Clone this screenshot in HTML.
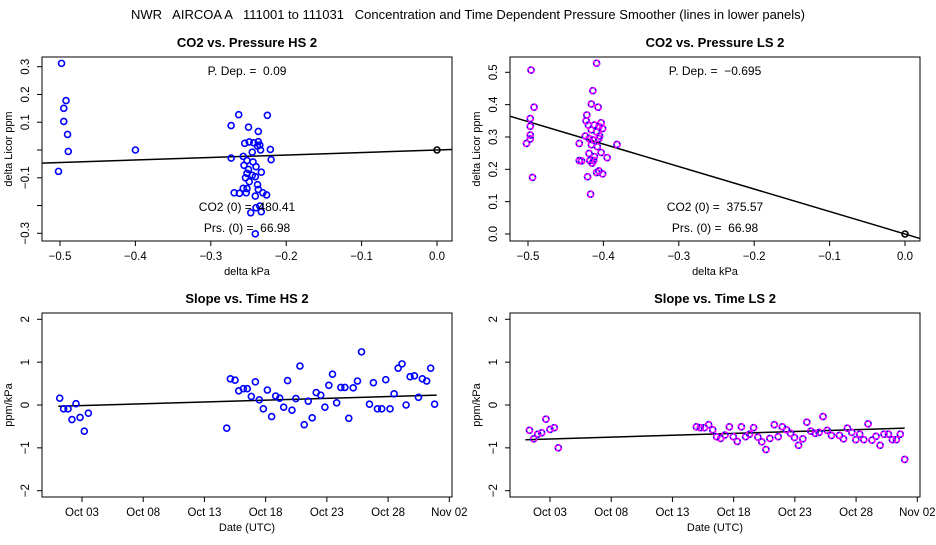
<!DOCTYPE html>
<html><head><meta charset="utf-8">
<style>
body{margin:0;background:#fff;}
svg text{font-family:"Liberation Sans",sans-serif;white-space:pre;}
</style></head>
<body>
<svg id="chart" width="936" height="540" xmlns="http://www.w3.org/2000/svg">
<rect width="936" height="540" fill="#fff"/>
<text x="468" y="19" font-size="13" text-anchor="middle" xml:space="preserve">NWR   AIRCOA A   111001 to 111031   Concentration and Time Dependent Pressure Smoother (lines in lower panels)</text>
</svg>
<script>
// ---- data ----
const hsPressX = [-0.498,-0.492,-0.495,-0.495,-0.49,-0.489,-0.502,-0.40,-0.263,-0.225,-0.273,-0.25,-0.237,-0.255,-0.249,-0.243,-0.237,-0.235,-0.238,-0.245,-0.234,-0.221,-0.273,-0.257,-0.220,-0.252,-0.244,-0.256,-0.240,-0.250,-0.233,-0.252,-0.245,-0.254,-0.241,-0.249,-0.238,-0.257,-0.252,-0.237,-0.269,-0.262,-0.253,-0.231,-0.226,-0.241,-0.235,-0.240,-0.247,-0.233,-0.241];
const hsPressY = [0.312,0.178,0.15,0.103,0.056,-0.005,-0.077,0,0.127,0.125,0.088,0.082,0.067,0.024,0.029,0.026,0.03,0.018,0.014,-0.008,0,0.002,-0.029,-0.023,-0.035,-0.038,-0.043,-0.055,-0.06,-0.07,-0.08,-0.084,-0.091,-0.1,-0.096,-0.114,-0.125,-0.138,-0.139,-0.142,-0.154,-0.156,-0.154,-0.154,-0.162,-0.166,-0.202,-0.208,-0.226,-0.222,-0.302];
const hsPDep = 0.09;
const lsPressX = [-0.496,-0.492,-0.497,-0.497,-0.497,-0.497,-0.502,-0.494,-0.409,-0.414,-0.416,-0.407,-0.422,-0.423,-0.403,-0.420,-0.412,-0.406,-0.401,-0.416,-0.409,-0.405,-0.424,-0.414,-0.419,-0.406,-0.432,-0.416,-0.408,-0.382,-0.403,-0.395,-0.419,-0.412,-0.432,-0.429,-0.418,-0.413,-0.415,-0.406,-0.401,-0.409,-0.421,-0.417];
const lsPressY = [0.507,0.392,0.357,0.333,0.306,0.294,0.28,0.175,0.528,0.443,0.402,0.392,0.368,0.35,0.344,0.337,0.337,0.332,0.326,0.322,0.316,0.303,0.303,0.291,0.295,0.295,0.28,0.276,0.27,0.277,0.252,0.236,0.249,0.239,0.227,0.226,0.227,0.227,0.219,0.195,0.186,0.19,0.177,0.123];
const lsPDep = -0.695;
const hsDays = [1.18,1.5,1.86,2.18,2.51,2.84,3.19,3.52,14.82,15.12,15.5,15.8,16.18,16.5,16.83,17.16,17.48,17.81,18.14,18.49,18.82,19.15,19.47,19.79,20.15,20.47,20.8,21.15,21.48,21.8,22.13,22.5,22.84,23.16,23.46,23.8,24.14,24.47,24.79,25.15,25.5,25.83,26.48,26.8,27.13,27.48,27.81,28.16,28.49,28.82,29.14,29.47,29.8,30.15,30.48,30.8,31.15,31.48,31.8];
const hsSlope = [0.16,-0.09,-0.09,-0.34,0.03,-0.29,-0.61,-0.19,-0.54,0.61,0.58,0.33,0.38,0.38,0.2,0.54,0.12,-0.09,0.35,-0.27,0.21,0.16,-0.05,0.57,-0.12,0.15,0.91,-0.46,0.09,-0.30,0.29,0.23,-0.05,0.46,0.72,0.05,0.41,0.41,-0.31,0.4,0.56,1.24,0.02,0.52,-0.09,-0.09,0.59,-0.09,0.26,0.86,0.96,0,0.66,0.68,0.18,0.61,0.56,0.86,0.02];
const hsFitDays = [1.07,31.97];
const hsFitVals = [-0.03,0.23];
const lsDays = [1.32,1.67,2.0,2.32,2.67,3.0,3.35,3.68,14.96,15.28,15.61,15.96,16.29,16.61,16.94,17.29,17.65,17.97,18.3,18.63,18.98,19.3,19.63,19.98,20.3,20.64,20.96,21.32,21.64,21.97,22.32,22.65,22.97,23.3,23.65,23.98,24.3,24.66,24.98,25.3,25.64,25.99,26.64,26.97,27.29,27.65,27.98,28.3,28.63,28.98,29.3,29.63,29.96,30.28,30.64,30.96,31.29,31.61,31.97];
const lsSlope = [-0.59,-0.79,-0.68,-0.65,-0.33,-0.57,-0.53,-1.0,-0.51,-0.53,-0.53,-0.46,-0.58,-0.74,-0.78,-0.70,-0.51,-0.74,-0.85,-0.51,-0.74,-0.68,-0.53,-0.75,-0.86,-1.04,-0.78,-0.46,-0.74,-0.51,-0.58,-0.66,-0.76,-0.94,-0.79,-0.40,-0.61,-0.66,-0.64,-0.27,-0.59,-0.71,-0.71,-0.79,-0.54,-0.64,-0.81,-0.68,-0.81,-0.44,-0.82,-0.73,-0.94,-0.68,-0.68,-0.81,-0.81,-0.68,-1.27];
const lsFitDays = [0.99,31.97];
const lsFitVals = [-0.81,-0.54];
const pressTicks = [-0.5,-0.4,-0.3,-0.2,-0.1,0.0];
const pressTickLabels = ["\u22120.5","\u22120.4","\u22120.3","\u22120.2","\u22120.1","0.0"];
const hsYTicks = [-0.3,-0.2,-0.1,0,0.1,0.2,0.3];
const hsYTickLabels = ["\u22120.3","","\u22120.1","","0.1","0.2","0.3"];
const lsYTicks = [0,0.1,0.2,0.3,0.4,0.5];
const lsYTickLabels = ["0.0","0.1","0.2","0.3","0.4","0.5"];
const dateTicks = [3,8,13,18,23,28,33];
const dateTickLabels = ["Oct 03","Oct 08","Oct 13","Oct 18","Oct 23","Oct 28","Nov 02"];
const slopeTicks = [-2,-1,0,1,2];
const slopeTickLabels = ["\u22122","\u22121","0","1","2"];

const svg = document.getElementById('chart');
const NS = 'http://www.w3.org/2000/svg';
function mk(tag, attrs, parent){
  const e = document.createElementNS(NS, tag);
  for (const k in attrs) e.setAttribute(k, attrs[k]);
  (parent||svg).appendChild(e);
  return e;
}
function lin(d0,d1,r0,r1){return v => r0 + (v-d0)/(d1-d0)*(r1-r0);}

function panel(o){
  const g = mk('g', {});
  
  
  const box = mk('rect', {x:o.x0, y:o.y0, width:o.x1-o.x0, height:o.y1-o.y0, fill:'none', stroke:'#000', 'stroke-width':1}, g);
  
  
  const t = mk('text', {x:(o.x0+o.x1)/2, y:o.y0-10, 'font-size':13, 'font-weight':'bold', 'text-anchor':'middle'}, g);
  t.textContent = o.title;
  
  
  o.xt.forEach((v,i)=>{
    const px = o.sx(v);
    const tk = mk('line', {x1:px, x2:px, y1:o.y1, y2:o.y1+5, stroke:'#000'}, g);
    
    
    const l = mk('text', {x:px, y:o.y1+19, 'font-size':11.5, 'text-anchor':'middle'}, g);
    l.textContent = o.xl[i];
    
    
  });
  o.yt.forEach((v,i)=>{
    const py = o.sy(v);
    const tk = mk('line', {x1:o.x0-5, x2:o.x0, y1:py, y2:py, stroke:'#000'}, g);
    
    
    if (o.yl[i]) {
      const l = mk('text', {x:0, y:0, 'font-size':11.5, 'text-anchor':'middle', transform:`translate(${o.x0-13},${py}) rotate(-90)`}, g);
      l.textContent = o.yl[i];
      
      
    }
  });
  const xt = mk('text', {x:(o.x0+o.x1)/2, y:o.y1+34, 'font-size':11, 'text-anchor':'middle'}, g);
  xt.textContent = o.xtitle;
  
  
  const yt = mk('text', {x:0, y:0, 'font-size':11, 'text-anchor':'middle', transform:`translate(${o.x0-30},${(o.y0+o.y1)/2}) rotate(-90)`}, g);
  yt.textContent = o.ytitle;
  
  
  const clip = 'clip-' + o.name;
  const cp = mk('clipPath', {id:clip}, g);
  mk('rect', {x:o.x0, y:o.y0, width:o.x1-o.x0, height:o.y1-o.y0}, cp);
  const plot = mk('g', {'clip-path':`url(#${clip})`}, g);
  return {g, plot};
}
function pt(parent, cx, cy, col, dual){
  if (dual){
    const b = mk('circle', {cx, cy, r:3, fill:'none', stroke:'#0000ff', 'stroke-width':1.6}, parent);
    
    
    const m = mk('circle', {cx, cy, r:3, fill:'none', stroke:'#ff00ff', 'stroke-width':1.6, 'stroke-dasharray':'3 1.5'}, parent);
    
    
  } else {
    const c = mk('circle', {cx, cy, r:3, fill:'none', stroke:col, 'stroke-width':1.6}, parent);
    
    
  }
}
function label(g, x, y, s, name){
  const t = mk('text', {x, y, 'font-size':12, 'text-anchor':'middle'}, g);
  t.textContent = s;
  
  
}

{
  const x0=42,x1=452,y0=57,y1=241;
  const sx = lin(-0.5,0,60,437), sy = lin(-0.3,0.3,233.3,66.7);
  const p = panel({name:'co2-pressure-hs', title:'CO2 vs. Pressure HS 2', x0,x1,y0,y1,sx,sy,xt:pressTicks,xl:pressTickLabels,yt:hsYTicks,yl:hsYTickLabels,xtitle:'delta kPa',ytitle:'delta Licor ppm'});
  const ln = mk('line', {x1:sx(-0.53), y1:sy(hsPDep*-0.53), x2:sx(0.03), y2:sy(hsPDep*0.03), stroke:'#000', 'stroke-width':1.5}, p.plot);
  
  
  hsPressX.forEach((v,i)=>pt(p.plot, sx(v), sy(hsPressY[i]), '#0000ff'));
  pt(p.plot, sx(0), sy(0), '#000');
  label(p.g, 247, 75, 'P. Dep. =  0.09', 'pdep-label');
  label(p.g, 247, 211, 'CO2 (0) =  480.41', 'co2-zero-label');
  label(p.g, 247, 232, 'Prs. (0) =  66.98', 'prs-zero-label');
}
{
  const x0=510,x1=920,y0=57,y1=241;
  const sx = lin(-0.5,0,528,905), sy = lin(0,0.5,234,72.3);
  const p = panel({name:'co2-pressure-ls', title:'CO2 vs. Pressure LS 2', x0,x1,y0,y1,sx,sy,xt:pressTicks,xl:pressTickLabels,yt:lsYTicks,yl:lsYTickLabels,xtitle:'delta kPa',ytitle:'delta Licor ppm'});
  const ln = mk('line', {x1:sx(-0.53), y1:sy(lsPDep*-0.53), x2:sx(0.03), y2:sy(lsPDep*0.03), stroke:'#000', 'stroke-width':1.5}, p.plot);
  
  
  lsPressX.forEach((v,i)=>pt(p.plot, sx(v), sy(lsPressY[i]), null, true));
  pt(p.plot, sx(0), sy(0), '#000');
  label(p.g, 715, 75, 'P. Dep. =  \u22120.695', 'pdep-label');
  label(p.g, 715, 211, 'CO2 (0) =  375.57', 'co2-zero-label');
  label(p.g, 715, 232, 'Prs. (0) =  66.98', 'prs-zero-label');
}
function slopePanel(name, title, x0, days, vals, fd, fv, dual){
  const x1=x0+410, y0=313, y1=497;
  const sx = lin(3,33,x0+40,x0+407.3), sy = lin(-2,2,490.7,319.3);
  const p = panel({name, title, x0,x1,y0,y1,sx,sy,xt:dateTicks,xl:dateTickLabels,yt:slopeTicks,yl:slopeTickLabels,xtitle:'Date (UTC)',ytitle:'ppm/kPa'});
  const ln = mk('line', {x1:sx(fd[0]), y1:sy(fv[0]), x2:sx(fd[1]), y2:sy(fv[1]), stroke:'#000', 'stroke-width':1.5}, p.plot);
  
  
  days.forEach((d,i)=>pt(p.plot, sx(d), sy(vals[i]), '#0000ff', dual));
}
slopePanel('slope-time-hs', 'Slope vs. Time HS 2', 42, hsDays, hsSlope, hsFitDays, hsFitVals, false);
slopePanel('slope-time-ls', 'Slope vs. Time LS 2', 510, lsDays, lsSlope, lsFitDays, lsFitVals, true);
</script>
</body></html>
